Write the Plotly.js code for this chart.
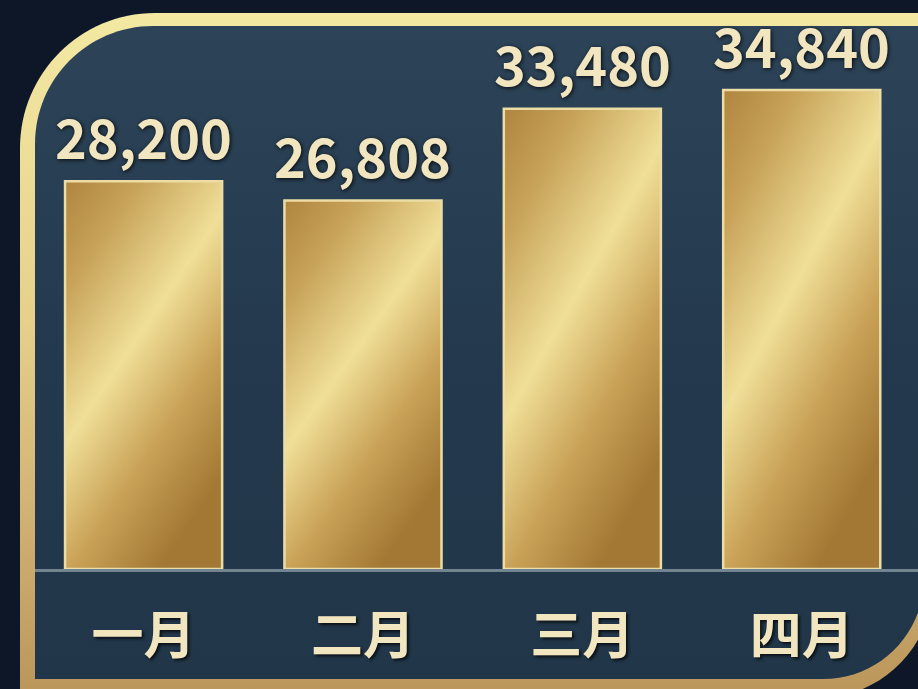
<!DOCTYPE html>
<html>
<head>
<meta charset="utf-8">
<script src="https://cdn.plot.ly/plotly-3.0.1.min.js"></script>
<style>
  html, body { margin: 0; padding: 0; background: #0d1727; }
  #chart { width: 918px; height: 689px; }
</style>
</head>
<body>
<div id="chart"></div>
<script>
// ---- data ----
const months = ['一月', '二月', '三月', '四月'];
const sales = [28200, 26808, 33480, 34840];

// ---- helpers for decorative frame (pixel -> paper) ----
const W = 918, H = 689;
const px = x => (x / W).toFixed(5);
const py = y => (1 - y / H).toFixed(5);
const K = 0.5523;
function roundedPath(left, top, right, bottom, rTL, rBR) {
  const p = [];
  p.push('M' + px(left) + ',' + py(bottom));
  p.push('L' + px(left) + ',' + py(top + rTL));
  p.push('C' + px(left) + ',' + py(top + rTL - K * rTL) + ' ' +
         px(left + rTL - K * rTL) + ',' + py(top) + ' ' +
         px(left + rTL) + ',' + py(top));
  p.push('L' + px(right) + ',' + py(top));
  p.push('L' + px(right) + ',' + py(bottom - rBR));
  p.push('C' + px(right) + ',' + py(bottom - rBR + K * rBR) + ' ' +
         px(right - rBR + K * rBR) + ',' + py(bottom) + ' ' +
         px(right - rBR) + ',' + py(bottom));
  p.push('Z');
  return p.join(' ');
}

const trace = {
  type: 'bar',
  x: months,
  y: sales,
  width: 0.716,
  marker: { color: '#d6b86a', line: { color: '#ecdca6', width: 2.5 } },
  hoverinfo: 'none'
};

const annotations = months.map((m, i) => ({
  x: m, y: sales[i], xref: 'x', yref: 'y',
  text: sales[i].toLocaleString('en-US'),
  showarrow: false,
  yanchor: 'middle',
  yshift: 46,
  font: { family: '"Noto Sans CJK SC", "Noto Sans", sans-serif', size: 54, weight: 'bold',
          color: '#f1e6c0', shadow: '1px 1px 4px rgba(0,0,0,0.85)' }
}));

const layout = {
  width: W, height: H, autosize: false,
  margin: { l: 0, r: 0, t: 0, b: 0, pad: 0 },
  paper_bgcolor: '#0d1727',
  plot_bgcolor: 'rgba(0,0,0,0)',
  showlegend: false,
  xaxis: {
    domain: [35 / W, 1],
    range: [-0.495, 3.53],
    showgrid: false, zeroline: false,
    showline: true, linecolor: '#71848f', linewidth: 3,
    ticks: '', ticklabelstandoff: 20,
    tickfont: { family: '"Noto Sans CJK SC", sans-serif', size: 52, weight: 'bold',
                color: '#f1e6c0', shadow: '2px 2px 3px rgba(0,0,0,0.7)' },
    fixedrange: true
  },
  yaxis: {
    domain: [1 - 569 / H, 1 - 26 / H],
    range: [0, 39500],
    visible: false, showgrid: false, zeroline: false, fixedrange: true
  },
  shapes: [
    { type: 'path', xref: 'paper', yref: 'paper', layer: 'below',
      path: roundedPath(20, 13, 933, 698, 135, 115),
      fillcolor: '#e0cc85', line: { width: 0 } },
    { type: 'path', xref: 'paper', yref: 'paper', layer: 'below',
      path: roundedPath(35, 26, 924, 679, 118, 101),
      fillcolor: '#24394e', line: { width: 0 } }
  ],
  annotations: annotations
};

Plotly.newPlot('chart', [trace], layout, { displayModeBar: false, staticPlot: true }).then(gd => {
  const NS = 'http://www.w3.org/2000/svg';
  const svg = gd.querySelector('svg.main-svg');
  let defs = svg.querySelector('defs');
  if (!defs) { defs = document.createElementNS(NS, 'defs'); svg.insertBefore(defs, svg.firstChild); }
  function grad(id, x1, y1, x2, y2, stops) {
    const g = document.createElementNS(NS, 'linearGradient');
    g.setAttribute('id', id);
    g.setAttribute('x1', x1); g.setAttribute('y1', y1);
    g.setAttribute('x2', x2); g.setAttribute('y2', y2);
    stops.forEach(s => {
      const st = document.createElementNS(NS, 'stop');
      st.setAttribute('offset', s[0]);
      st.setAttribute('stop-color', s[1]);
      g.appendChild(st);
    });
    defs.appendChild(g);
  }
  grad('goldBar', 0, 0, 0.6, 1, [[0, '#b0853f'], [0.2, '#c6a157'], [0.5, '#f0df98'], [0.75, '#c9a257'], [1, '#a37834']]);
  grad('goldFrame', 0, 0, 0, 1, [[0, '#f3e9a3'], [0.45, '#e6d08a'], [1, '#bb955a']]);
  grad('panel', 0, 0, 0, 1, [[0, '#2d4458'], [0.5, '#24394d'], [1, '#213648']]);

  gd.querySelectorAll('.trace.bars .point path').forEach(p => { p.style.fill = 'url(#goldBar)'; });
  const shp = gd.querySelectorAll('.layer-below .shapelayer path');
  if (shp[0]) shp[0].style.fill = 'url(#goldFrame)';
  if (shp[1]) shp[1].style.fill = 'url(#panel)';
});
</script>
</body>
</html>
